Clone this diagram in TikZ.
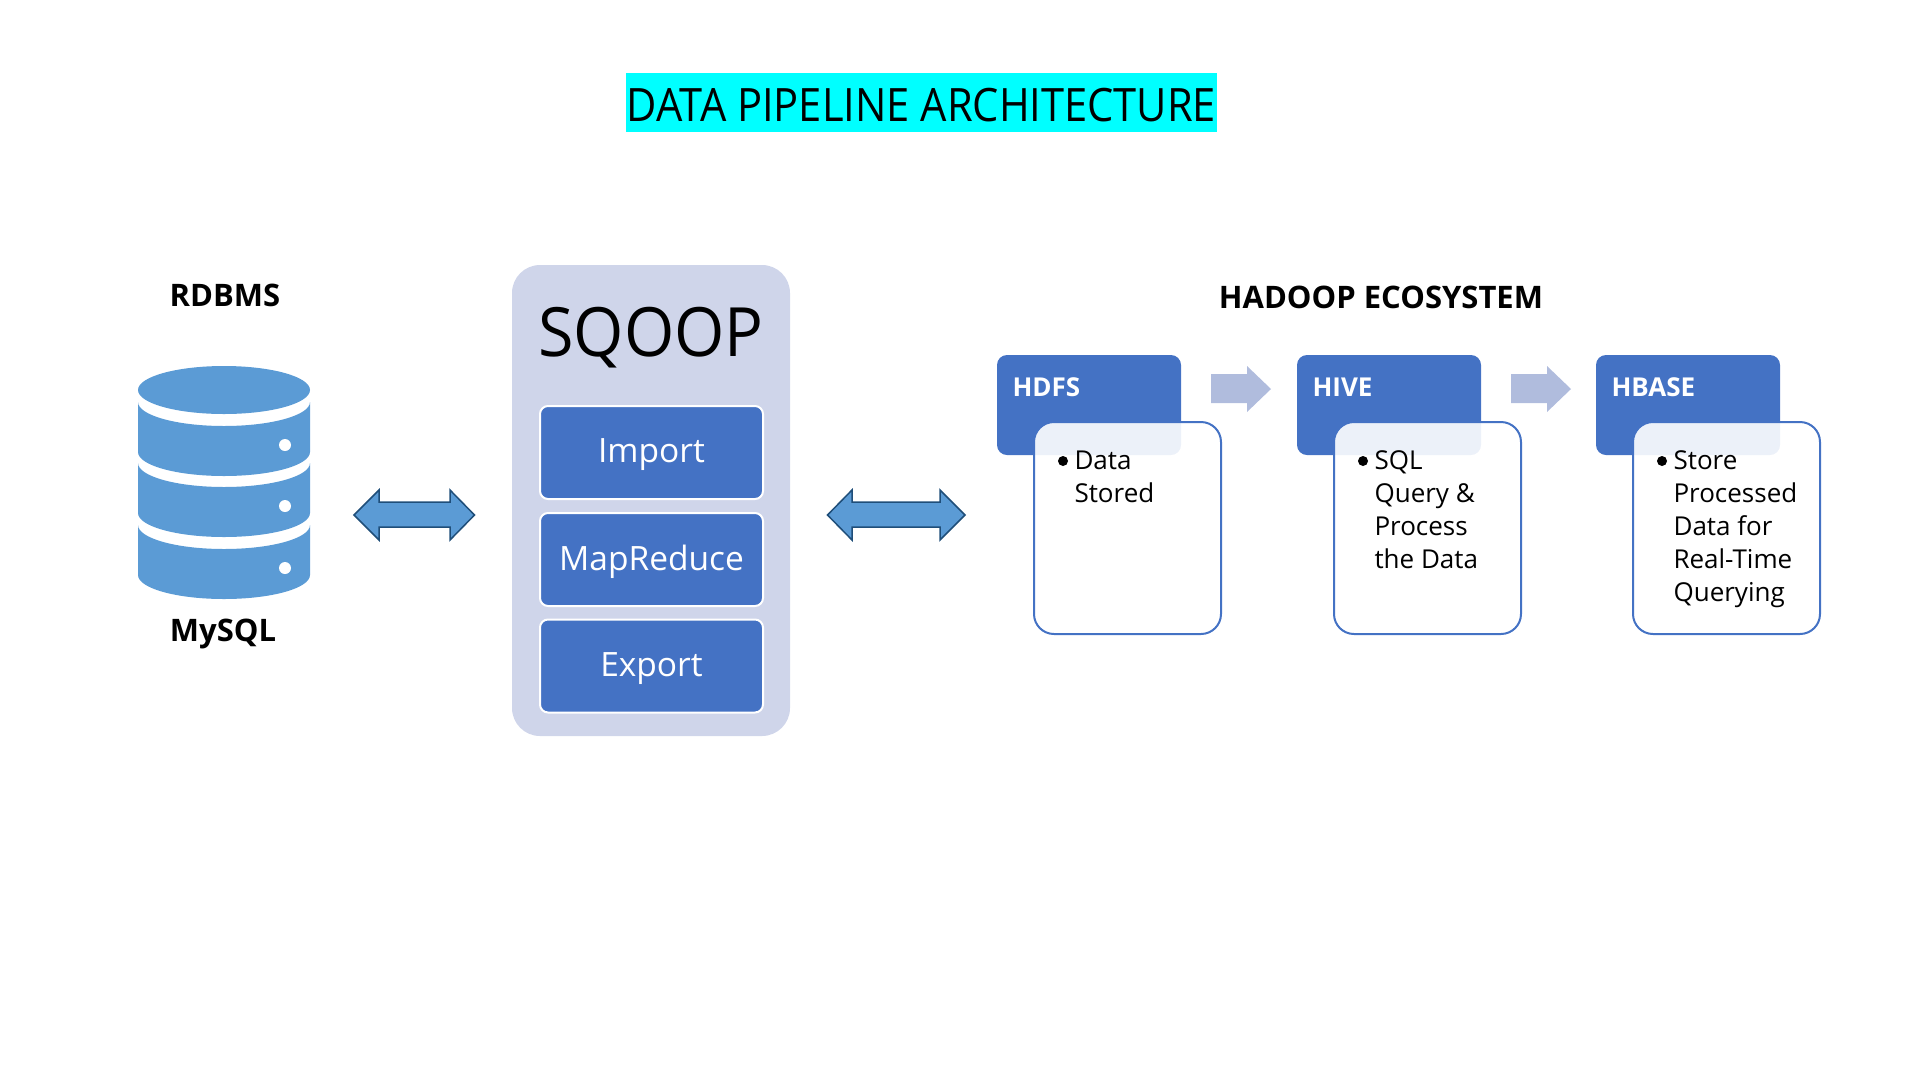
\documentclass[tikz,border=0pt]{standalone}
\usepackage{fontspec}
\setmainfont{Open Sans}
\newfontfamily\titlefont[FakeStretch=0.905]{Open Sans}
\newfontfamily\sqfont[FakeStretch=0.95]{Open Sans}
\definecolor{blueA}{HTML}{4472C4}
\definecolor{paleA}{HTML}{CFD5EA}
\definecolor{cylA}{HTML}{5B9BD5}
\definecolor{edgeA}{HTML}{1F4E79}
\definecolor{arrA}{HTML}{B0BCDD}
\definecolor{titleA}{HTML}{00FFFF}
\newcommand{\fsz}[1]{\fontsize{#1}{#1}\selectfont}
\newcommand{\lowerA}[2]{\raisebox{#1}[\height][\depth]{#2}}
\tikzset{
 x=1pt,y=-1pt,
 sqoopitem/.style={draw=white,line width=2pt,fill=blueA,rounded corners=8pt,text=white,minimum width=223pt,minimum height=93pt,inner sep=0pt,font=\fontsize{33.5}{36}\selectfont},
 headbox/.style={fill=blueA,rounded corners=10pt},
 bodybox/.style={draw=blueA,line width=2pt,fill=white,fill opacity=.9,rounded corners=20pt},
 dblarrow/.style={draw=edgeA,line width=1.5pt,fill=cylA,line join=miter},
 lightarrow/.style={fill=arrA},
 cyl/.style={fill=cylA},
 bodytxt/.style={anchor=north west,align=left,font=\fontsize{26}{33}\selectfont},
 headtxt/.style={anchor=west,text=white,font=\fsz{26}\bfseries},
 lab/.style={font=\fsz{31}\bfseries},
}
\newcommand{\layer}[2]{\fill[cyl] (138,#1) arc[start angle=180,end angle=360,x radius=86pt,y radius=24pt] -- (310,#2) arc[start angle=0,end angle=-180,x radius=86pt,y radius=24pt] -- cycle;}
\newcommand{\dotA}[1]{\fill[white] (285,#1) circle[radius=6pt];}
\newcommand{\dblA}[4]{\path[dblarrow] (#1,515) -- (#2,490) -- (#2,502) -- (#3,502) -- (#3,490) -- (#4,515) -- (#3,540) -- (#3,527) -- (#2,527) -- (#2,540) -- cycle;}
\newcommand{\lightA}[1]{\path[lightarrow,shift={(#1,0)}] (0,374) -- (36,374) -- (36,366) -- (60,389) -- (36,412) -- (36,403) -- (0,403) -- cycle;}
\begin{document}
\begin{tikzpicture}
\useasboundingbox (0,0) rectangle (1920,1080);
\node[fill=titleA,minimum width=591pt,minimum height=59pt,inner sep=0pt,font=\titlefont\fsz{46}] (title) at (921.5,102.5) {\lowerA{-2.5pt}{DATA PIPELINE ARCHITECTURE}};
\node[lab] (rdbms) at (225,295) {RDBMS};
\node[lab] (mysql) at (223,634) {MySQL};
\fill[cyl] (224,390) ellipse[x radius=86pt,y radius=24pt];
\layer{402}{452}\layer{463}{513}\layer{525}{575}
\dotA{445}\dotA{506}\dotA{568}
\dblA{354}{379}{450}{474.5}
\fill[paleA,rounded corners=28pt] (512,265) rectangle (790,736);
\node[font=\sqfont\fsz{68}] (sq) at (651,338) {SQOOP};
\node[sqoopitem] (imp) at (651.5,452.5) {\lowerA{-2.5pt}{Import}};
\node[sqoopitem] (mr) at (651.5,559.5) {\lowerA{-2pt}{MapReduce}};
\node[sqoopitem] (exp) at (651.5,666) {\lowerA{-3pt}{Export}};
\dblA{827.5}{852}{940}{965}
\node[lab] (hadoop) at (1381,297) {HADOOP ECOSYSTEM};
\foreach \dx/\nm/\hd in {0/hdfs/HDFS,300/hive/HIVE,599/hbase/HBASE}{
 \begin{scope}[xshift=\dx pt]
 \fill[headbox] (997,355) rectangle (1181,455);
 \node[headtxt] (\nm) at (1009,387) {\hd};
 \draw[bodybox] (1034,422) rectangle (1221,634);
 \fill (1063,461) circle[radius=5pt];
 \end{scope}}
\lightA{1211}\lightA{1511}
\node[bodytxt] (t1) at (1071,447.5) {Data\\Stored};
\node[bodytxt] (t2) at (1371,447.5) {SQL\\Query \&\\Process\\the Data};
\node[bodytxt] (t3) at (1670,447.5) {Store\\Processed\\Data for\\Real-Time\\Querying};
\end{tikzpicture}
\end{document}
